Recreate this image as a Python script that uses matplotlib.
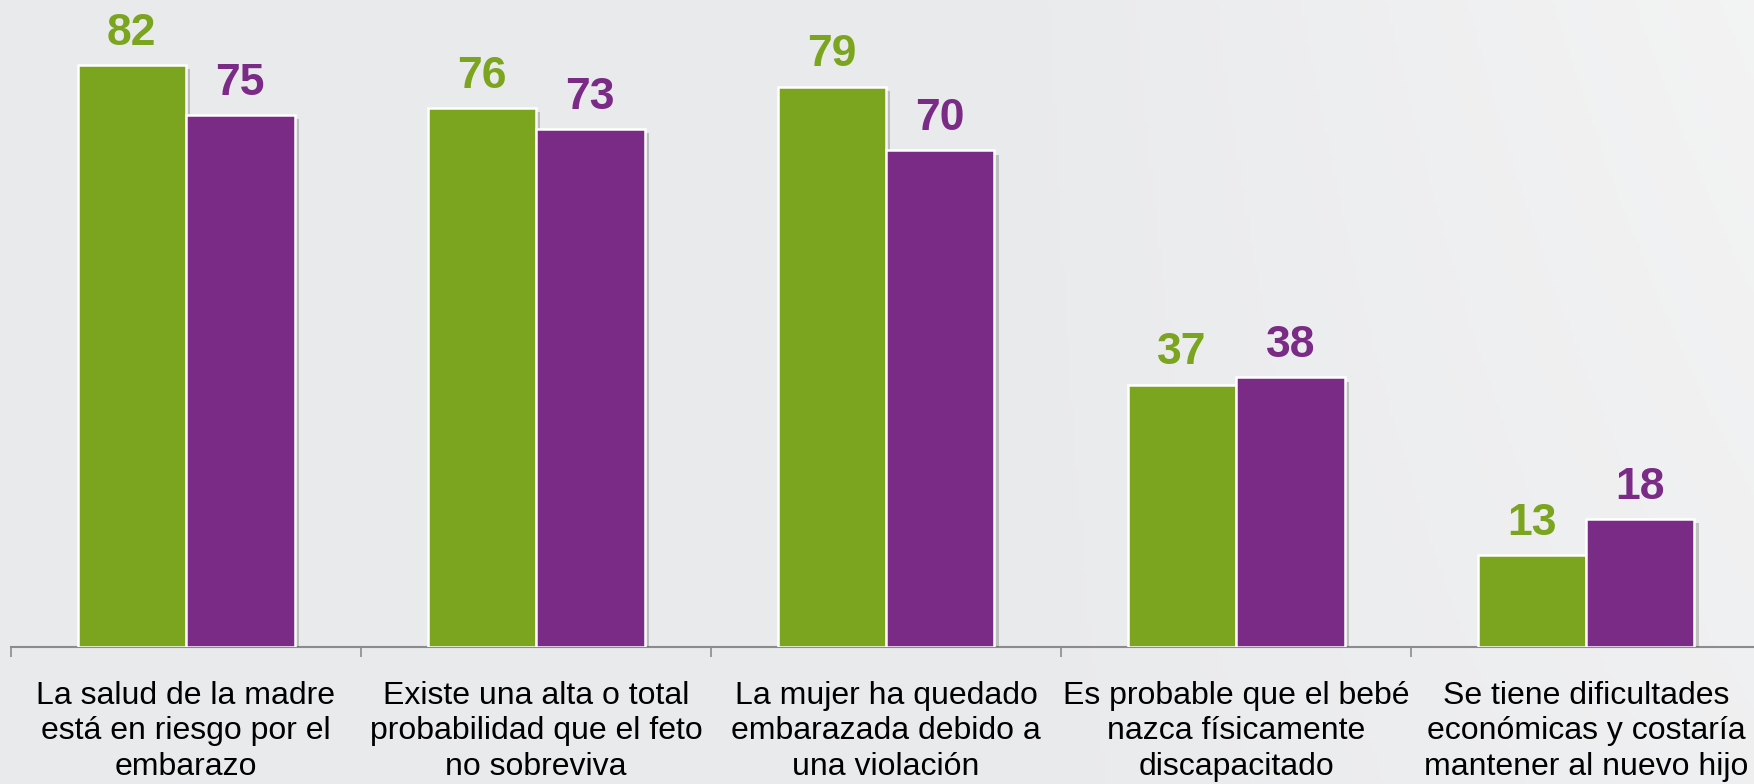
import numpy as np
import matplotlib.pyplot as plt
import matplotlib.patheffects as pe
from matplotlib.colors import LinearSegmentedColormap

categories = [
    "La salud de la madre\nestá en riesgo por el\nembarazo",
    "Existe una alta o total\nprobabilidad que el feto\nno sobreviva",
    "La mujer ha quedado\nembarazada debido a\nuna violación",
    "Es probable que el bebé\nnazca físicamente\ndiscapacitado",
    "Se tiene dificultades\neconómicas y costaría\nmantener al nuevo hijo",
]
green_vals = [82, 76, 79, 37, 13]
purple_vals = [75, 73, 70, 38, 18]

GREEN = "#7BA51E"
PURPLE = "#7A2B85"

plt.rcParams["font.family"] = ["Liberation Sans", "DejaVu Sans"]

fig = plt.figure(figsize=(17.54, 7.84), dpi=100)

# background gradient
bg = fig.add_axes([0, 0, 1, 1])
bg.set_axis_off()
xx = np.linspace(0, 1, 400)
yy = np.linspace(0, 1, 200)
X, Y = np.meshgrid(xx, yy)
grad = np.clip((X - 0.55) * 1.6, 0, 1) * (0.6 + 0.4 * Y)
cmap = LinearSegmentedColormap.from_list("bg", ["#E9EAEC", "#F7F7F7"])
bg.imshow(grad, cmap=cmap, aspect="auto", extent=[0, 1, 0, 1], origin="lower",
          vmin=0, vmax=1)

ax = fig.add_axes([11 / 1754, (784 - 647) / 784, 1750 / 1754, 647 / 784])
ax.patch.set_alpha(0)
ax.set_xlim(-0.5, 4.5)
ax.set_ylim(0, 91.2)

x = np.arange(len(categories))
w = 0.31
shadow = [pe.SimplePatchShadow(offset=(3, -3), shadow_rgbFace="#555555", alpha=0.3),
          pe.Normal()]
b1 = ax.bar(x - w / 2, green_vals, w, color=GREEN, edgecolor="white", linewidth=1.8,
            path_effects=shadow, zorder=3)
b2 = ax.bar(x + w / 2, purple_vals, w, color=PURPLE, edgecolor="white", linewidth=1.8,
            path_effects=shadow, zorder=3)

for bars, vals, c in [(b1, green_vals, GREEN), (b2, purple_vals, PURPLE)]:
    for rect, v in zip(bars, vals):
        ax.annotate(str(v), (rect.get_x() + rect.get_width() / 2, v),
                    xytext=(0, 8), textcoords="offset points",
                    ha="center", va="bottom", fontsize=32, fontweight="bold",
                    color=c)

for s in ["top", "right", "left"]:
    ax.spines[s].set_visible(False)
ax.spines["bottom"].set_color("#8C8C8C")
ax.spines["bottom"].set_linewidth(1.5)
ax.set_yticks([])
ax.set_xticks(np.arange(-0.5, 5.0, 1.0))
ax.set_xticklabels([])
ax.tick_params(axis="x", length=7, width=1.2, color="#8C8C8C", direction="out")

trans = ax.get_xaxis_transform()
for i, lab in enumerate(categories):
    ax.text(i, -0.052, lab, transform=trans, ha="center", va="top",
            fontsize=23, linespacing=1.24, color="black")

fig.savefig("out.png", dpi=100)
